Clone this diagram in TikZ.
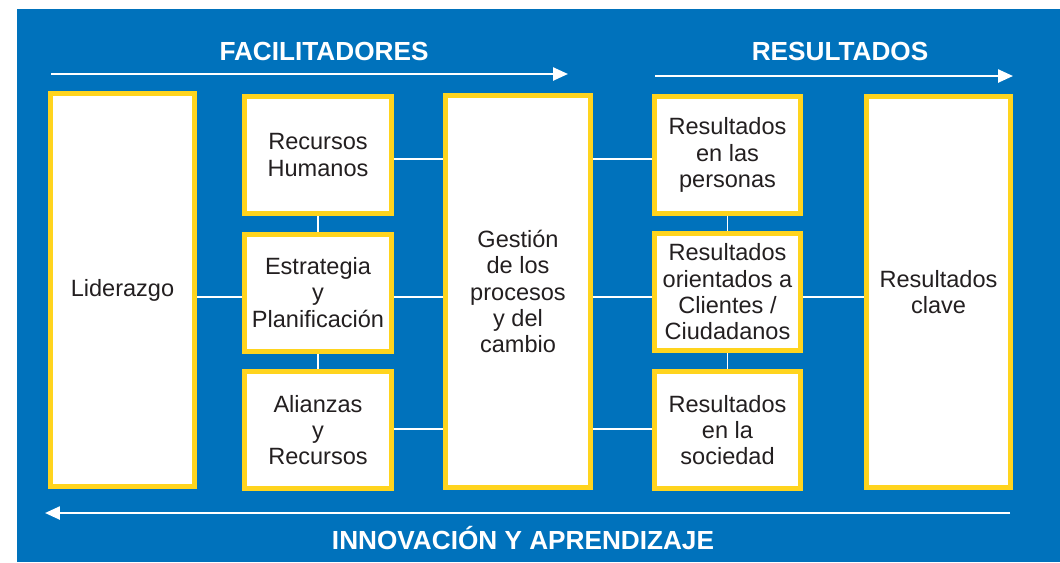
\documentclass[tikz,border=0pt]{standalone}
\usepackage{fontspec}
\setmainfont{Liberation Sans}
\usetikzlibrary{arrows.meta}
\definecolor{bgblue}{RGB}{0,114,188}
\definecolor{boxyellow}{RGB}{255,212,30}
\definecolor{textgray}{RGB}{35,31,32}

\begin{document}
\begin{tikzpicture}[x=0.02cm,y=-0.02cm,
  box/.style={draw=boxyellow, line width=0.1cm, fill=white, text=textgray,
    align=center, inner sep=1pt, font=\fontsize{13.4}{15}\selectfont},
  tallbox/.style={box, minimum height=7.84cm},
  smallbox/.style={box, minimum width=2.94cm, minimum height=2.34cm},
  link/.style={white, line width=1.1pt},
  flow/.style={white, line width=1.4pt, -{Triangle[length=0.3cm,width=0.26cm]}},
  heading/.style={text=white, anchor=base, inner sep=0pt,
    font=\fontsize{14.9}{17}\selectfont\bfseries}]
%% background
	\useasboundingbox (0,0) rectangle (1060,562);
	\fill[bgblue] (17,9) rectangle (1060,562);

%% headings and arrows
	\node[heading] (fac) at (324,60) {FACILITADORES};
	\node[heading] (res) at (840,60) {RESULTADOS};
	\node[heading] (inn) at (523,549) {INNOVACIÓN Y APRENDIZAJE};
	\coordinate (facL) at (51,74);
	\coordinate (facR) at (568,74);
	\coordinate (resL) at (655,76);
	\coordinate (resR) at (1013,76);
	\coordinate (innR) at (1010,513);
	\coordinate (innL) at (45,513);
	\draw[flow] (facL) -- (facR);
	\draw[flow] (resL) -- (resR);
	\draw[flow] (innR) -- (innL);

%% boxes
	\node[tallbox, minimum width=2.88cm, minimum height=7.86cm] (lid) at (122.5,290) {Liderazgo};
	\node[smallbox] (rh) at (318,155) {Recursos\\Humanos};
	\node[smallbox] (est) at (318,292.5) {Estrategia\\y\\Planificación};
	\node[smallbox] (ali) at (318,430) {Alianzas\\y\\Recursos};
	\node[tallbox, minimum width=2.9cm] (ges) at (518,291.5) {Gestión\\de los\\procesos\\y del\\cambio};
	\node[smallbox, minimum width=2.92cm] (rp) at (727.5,155) {Resultados\\en las\\personas};
	\node[smallbox, minimum width=2.92cm] (rc) at (727.5,292) {Resultados\\orientados a\\Clientes /\\Ciudadanos};
	\node[smallbox, minimum width=2.92cm] (rs) at (727.5,430) {Resultados\\en la\\sociedad};
	\node[tallbox, minimum width=2.88cm, minimum height=7.82cm] (rk) at (938.5,292) {Resultados\\clave};

%% connections
	\coordinate (rowA) at (0,159);
	\coordinate (rowB) at (0,297);
	\coordinate (rowC) at (0,429);
\foreach \a/\b/\r in {lid/est/rowB,rh/ges/rowA,est/ges/rowB,ali/ges/rowC,ges/rp/rowA,ges/rc/rowB,ges/rs/rowC,rc/rk/rowB}
{
\draw[link] (\a.east |- \r) -- (\b.west |- \r);
}
\foreach \a/\b in {rh/est,est/ali,rp/rc,rc/rs}
{
\draw[link] (\a.south) -- (\b.north);
}

\end{tikzpicture}
\end{document}
